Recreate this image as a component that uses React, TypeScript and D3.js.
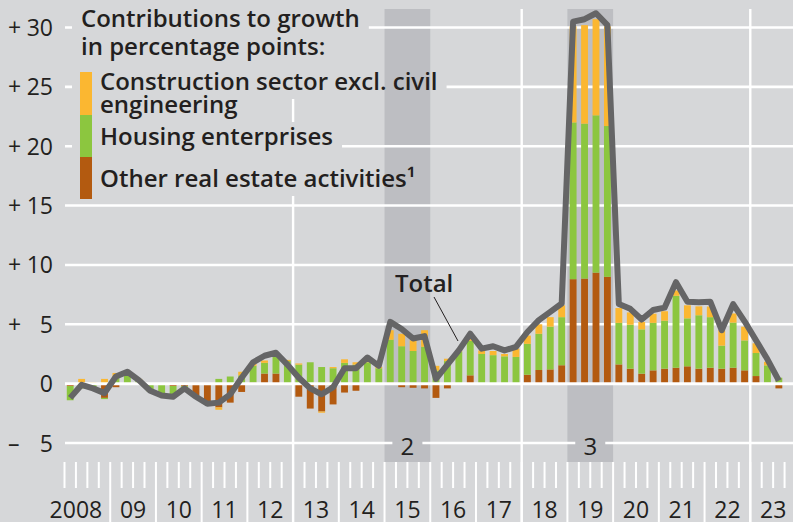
import React, { useEffect, useRef } from 'react';
import * as d3 from 'd3';

// quarterly data, 2008 Q1 - 2023 Q3
const years = [2008, 2009, 2010, 2011, 2012, 2013, 2014, 2015, 2016, 2017, 2018, 2019, 2020, 2021, 2022, 2023];
const yearLabels = ['2008', '09', '10', '11', '12', '13', '14', '15', '16', '17', '18', '19', '20', '21', '22', '23'];
const quarterNames = ['Q1', 'Q2', 'Q3', 'Q4'];

const otherRealEstate = [
  -0.2, -0.1, -0.1, -1.2, -0.3, 0, -0.1, -0.1, -0.1, -0.2,
  -0.2, -1.0, -1.5, -2.0, -1.6, -0.7, 0.1, 0.85, 0.85, 0,
  -1.1, -2.1, -2.35, -1.75, -0.75, -0.6, 0, 0, 0.1, -0.3,
  -0.35, -0.4, -1.2, -0.4, 0, 0.7, 0, 0, -0.1, 0,
  0.75, 1.15, 1.2, 1.55, 8.8, 8.85, 9.35, 9.0, 1.62, 1.26,
  0.84, 1.12, 1.26, 1.34, 1.46, 1.26, 1.34, 1.26, 1.34, 1.12,
  0.64, 0.08, -0.4,
];
const housing = [
  -1.2, -0.3, -0.3, -0.1, 0.5, 0.8, 0.3, -0.6, -0.8, -0.7,
  -0.3, -0.1, 0, 0.4, 0.6, 0.7, 1.4, 0.9, 1.4, 1.9,
  1.6, 1.8, 1.4, 1.3, 1.75, 1.6, 1.8, 1.3, 3.6, 3.15,
  2.75, 3.1, 1.1, 1.9, 2.7, 2.9, 2.5, 2.4, 2.3, 2.25,
  2.6, 3.05, 3.6, 4.05, 13.2, 13.05, 13.25, 12.7, 3.5, 3.7,
  3.73, 4.0, 4.04, 6.06, 4.04, 4.5, 4.26, 1.94, 3.8, 2.52,
  1.94, 1.46, 0.5,
];
const construction = [
  0, 0.4, 0.1, 0.4, 0.4, 0.2, 0.1, 0, 0, -0.1,
  0, 0, 0, -0.2, 0, 0.3, 0.15, 0.2, 0.1, 0.1,
  0.1, 0, -0.1, 0.1, 0.3, 0.2, 0.1, 0.1, 0.8, 1.05,
  0.9, 1.4, 0.4, 0.2, 0.1, 0.2, 0.3, 0.35, 0.2, 0.7,
  0.7, 0.8, 0.8, 1.0, 8.1, 8.3, 8.1, 8.4, 1.25, 1.04,
  0.63, 0.77, 0.8, 0.45, 1.1, 0.75, 0.9, 1.3, 0.77, 1.16,
  0.82, 0.3, 0,
];
const total = [
  -1.2, -0.1, -0.4, -0.8, 0.6, 1.0, 0.3, -0.6, -1.0, -1.1,
  -0.4, -1.1, -1.7, -1.6, -0.9, 0.5, 1.8, 2.35, 2.6, 1.6,
  0.5, -0.4, -0.9, -0.3, 1.3, 1.3, 2.2, 1.5, 5.2, 4.6,
  3.8, 4.0, 0.4, 1.6, 2.8, 4.2, 2.95, 3.15, 2.8, 3.1,
  4.35, 5.35, 6.05, 6.75, 30.5, 30.7, 31.2, 30.2, 6.7, 6.3,
  5.4, 6.2, 6.4, 8.55, 6.9, 6.85, 6.9, 4.5, 6.7, 5.25,
  3.65, 2.05, 0.25,
];

const yTicks = [30, 25, 20, 15, 10, 5, 0, -5];
const shadedYears = [2015, 2019];
const shadedLabels = ['2', '3'];
const legendTitle = ['Contributions to growth', 'in percentage points:'];
const seriesKeys = ['other', 'housing', 'construction'];
const seriesLabels = [['Construction sector excl. civil', 'engineering'], ['Housing enterprises'], ['Other real estate activities\u00b9']];

const W = 793;
const H = 522;
const BG = '#d6d7d9';
const SHADE = '#bdbec2';
const INK = '#231f20';
const FONT = "'Open Sans', 'Noto Sans', sans-serif";
const colors: Record<string, string> = { other: '#b35a10', housing: '#8cc63f', construction: '#fbb731' };

export default function App() {
  const ref = useRef<SVGSVGElement>(null);

  useEffect(() => {
    const svg = d3.select(ref.current);
    svg.selectAll('*').remove();

    const categories = years.flatMap(yr => quarterNames.map(q => `${yr} ${q}`));
    const x = d3.scaleBand().domain(categories).range([64.5, 796]).paddingInner(0.4).paddingOuter(0.2);
    const xq = d3.scaleLinear().domain([0, categories.length]).range([64.5, 796]);
    const y = d3.scaleLinear().domain([-5, 30]).range([443, 27.5]);

    svg.append('rect').attr('width', W).attr('height', H).attr('fill', BG);

    const mask = svg.append('defs').append('mask')
      .attr('id', 'gridMask').attr('maskUnits', 'userSpaceOnUse')
      .attr('x', 0).attr('y', 0).attr('width', W).attr('height', H);
    mask.append('rect').attr('width', W).attr('height', H).attr('fill', '#fff');

    // shaded periods
    shadedYears.forEach(yr => {
      const k = (yr - years[0]) * 4;
      svg.append('rect')
        .attr('x', xq(k)).attr('width', xq(k + 4) - xq(k))
        .attr('y', 9).attr('height', 453)
        .attr('fill', SHADE);
    });

    // grid
    const grid = svg.append('g').attr('mask', 'url(#gridMask)').attr('stroke', '#fff');
    grid.selectAll('line.h').data(yTicks.filter(t => t !== 0)).join('line')
      .attr('x1', 65).attr('x2', W)
      .attr('y1', d => y(d)).attr('y2', d => y(d))
      .attr('stroke-width', 2.6);
    const fiveYear = years.filter(yr => yr > years[0] && (yr - years[0]) % 5 === 0);
    grid.selectAll('line.v').data(fiveYear).join('line')
      .attr('x1', yr => xq((yr - years[0]) * 4)).attr('x2', yr => xq((yr - years[0]) * 4))
      .attr('y1', 9).attr('y2', H)
      .attr('stroke-width', 2.4);

    // quarter ticks
    svg.append('g').attr('stroke', '#fff').attr('stroke-width', 2)
      .selectAll('line').data(d3.range(categories.length)).join('line')
      .attr('x1', k => xq(k)).attr('x2', k => xq(k))
      .attr('y1', 462).attr('y2', k => (k > 0 && k % 4 === 0 ? H : 488));

    // stacked bars
    const table = otherRealEstate.map((v, i) => ({
      cat: categories[i], other: v, housing: housing[i], construction: construction[i],
    }));
    const stacked = d3.stack<any>().keys(seriesKeys).offset(d3.stackOffsetDiverging)(table);
    svg.append('g').selectAll('g').data(stacked).join('g')
      .attr('fill', s => colors[s.key])
      .selectAll('rect').data(s => s).join('rect')
      .attr('x', d => x(d.data.cat)!)
      .attr('width', x.bandwidth())
      .attr('y', d => y(Math.max(d[0], d[1])))
      .attr('height', d => Math.abs(y(d[0]) - y(d[1])));

    // zero line
    svg.append('line')
      .attr('x1', 65).attr('x2', W).attr('y1', y(0)).attr('y2', y(0))
      .attr('stroke', '#fff').attr('stroke-width', 3);

    // total line
    const line = d3.line<number>()
      .x((d, i) => x(categories[i])! + x.bandwidth() / 2)
      .y(d => y(d));
    svg.append('path').datum(total)
      .attr('d', line)
      .attr('fill', 'none')
      .attr('stroke', '#656566')
      .attr('stroke-width', 6)
      .attr('stroke-linejoin', 'round');

    // Total label
    svg.append('line')
      .attr('x1', 434).attr('y1', 297).attr('x2', 458).attr('y2', 341)
      .attr('stroke', INK).attr('stroke-width', 1);
    svg.append('text').text('Total')
      .attr('x', 395).attr('y', 292)
      .attr('font-family', FONT).attr('font-size', 24).attr('font-weight', 600).attr('fill', INK);

    // y axis labels
    const yl = svg.append('g').attr('font-family', FONT).attr('font-size', 23).attr('fill', INK);
    yTicks.forEach(t => {
      if (t !== 0) {
        yl.append('text').text(t > 0 ? '+' : '\u2013').attr('x', 8).attr('y', y(t) + 8.5);
      }
      yl.append('text').text(String(Math.abs(t))).attr('x', 53).attr('y', y(t) + 8.5).attr('text-anchor', 'end');
    });

    // year labels
    const xl = svg.append('g').attr('font-family', FONT).attr('font-size', 23).attr('fill', INK);
    years.forEach((yr, i) => {
      xl.append('text').text(yearLabels[i])
        .attr('x', i === 0 ? xq(4) - 8 : xq(i * 4 + 2))
        .attr('y', 518)
        .attr('text-anchor', i === 0 ? 'end' : 'middle');
    });

    // shaded period labels
    shadedYears.forEach((yr, i) => {
      const cx = xq((yr - years[0]) * 4 + 2);
      svg.append('text').text(shadedLabels[i])
        .attr('x', cx).attr('y', 455).attr('text-anchor', 'middle')
        .attr('font-family', FONT).attr('font-size', 24).attr('fill', INK);
      mask.append('rect').attr('x', cx - 15).attr('width', 30).attr('y', 432).attr('height', 27).attr('fill', '#000');
    });

    // legend
    const lg = svg.append('g').attr('font-family', FONT).attr('font-size', 24).attr('font-weight', 600).attr('fill', INK);
    const rows: { text: string; x: number; baseline: number }[] = [
      { text: legendTitle[0], x: 81, baseline: 27 },
      { text: legendTitle[1], x: 81, baseline: 55 },
      { text: seriesLabels[0][0], x: 100, baseline: 90 },
      { text: seriesLabels[0][1], x: 100, baseline: 113 },
      { text: seriesLabels[1][0], x: 100, baseline: 145 },
      { text: seriesLabels[2][0], x: 100, baseline: 187 },
    ];
    let top = 9;
    rows.forEach(r => {
      const t = lg.append('text').text(r.text).attr('x', r.x).attr('y', r.baseline);
      const bb = (t.node() as SVGTextElement).getBBox();
      const bottom = r.baseline + 9;
      mask.append('rect')
        .attr('x', 72).attr('width', bb.x + bb.width + 9 - 72)
        .attr('y', top).attr('height', bottom - top)
        .attr('fill', '#000');
      top = bottom;
    });
    const swatches = [
      { key: 'construction', y0: 72, y1: 115 },
      { key: 'housing', y0: 115, y1: 157 },
      { key: 'other', y0: 157, y1: 199 },
    ];
    swatches.forEach(s => {
      svg.append('rect').attr('x', 80).attr('width', 12)
        .attr('y', s.y0).attr('height', s.y1 - s.y0)
        .attr('fill', colors[s.key]);
    });
  }, []);

  return (
    <svg ref={ref} width={W} height={H} style={{ position: 'absolute', left: 0, top: 0, display: 'block' }} />
  );
}
